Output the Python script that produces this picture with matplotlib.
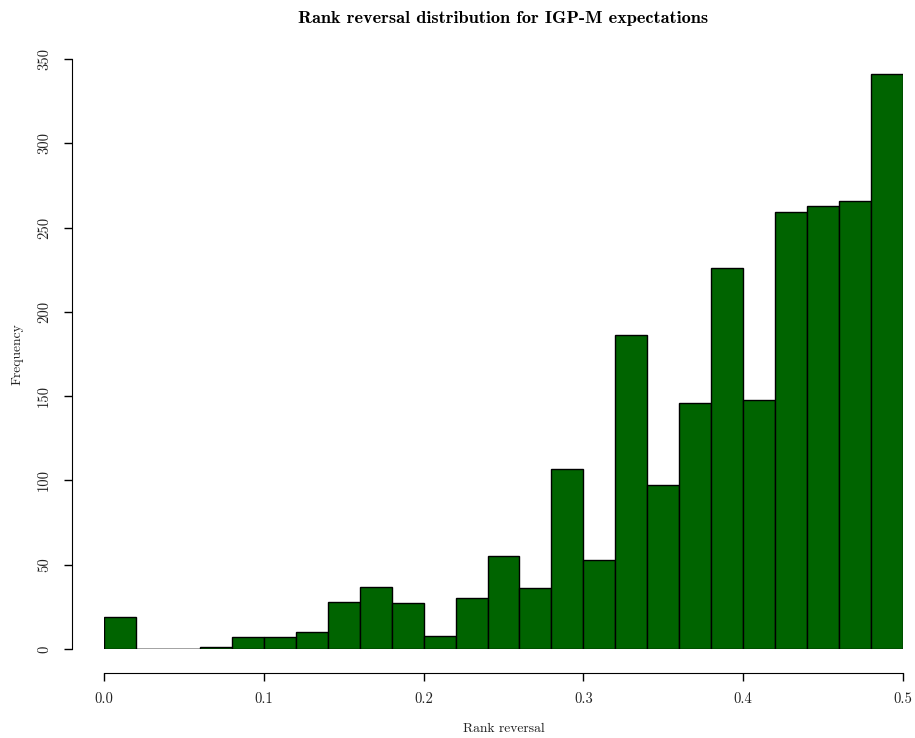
import matplotlib

matplotlib.use("Agg")
import matplotlib.pyplot as plt
import numpy as np

# histogram of rank reversal values, bins of width 0.02 over [0, 0.5]
bin_edges = [round(0.02 * i, 2) for i in range(26)]
counts = [19, 0, 0, 1, 7, 7, 10, 28, 37, 27, 8, 30, 55, 36, 107,
          53, 186, 97, 146, 226, 148, 259, 263, 266, 341]
x_ticks = [0.0, 0.1, 0.2, 0.3, 0.4, 0.5]
y_ticks = [0, 50, 100, 150, 200, 250, 300, 350]

plt.rcParams["font.family"] = ["cmr10", "DejaVu Serif"]
plt.rcParams["axes.formatter.use_mathtext"] = True

W, H = 915, 738
fig = plt.figure(figsize=(W / 100, H / 100), dpi=100)
ax = fig.add_axes([104 / W, 1 - 649 / H, (903 - 104) / W, (649 - 59) / H])

edges = np.array(bin_edges)
ax.bar(edges[:-1], counts, width=np.diff(edges), align="edge",
       color="#006400", edgecolor="black", linewidth=1.0)
# empty bins still show as a flat line on the baseline
ax.hlines(0, edges[0], edges[-1], color="black", linewidth=1.0, zorder=0.5)

ax.set_xlim(0, 0.5)
ax.set_ylim(0, 350)

for side in ["top", "right"]:
    ax.spines[side].set_visible(False)
ax.spines["bottom"].set_position(("outward", 24 * 0.72))
ax.spines["left"].set_position(("outward", 32 * 0.72))
ax.spines["bottom"].set_bounds(0, 0.5)
ax.spines["left"].set_bounds(0, 350)

ax.set_xticks(x_ticks)
ax.set_xticklabels([f"{v:.1f}" for v in x_ticks])
ax.set_yticks(y_ticks)
ax.set_yticklabels([str(v) for v in y_ticks], rotation=90, va="center")
ax.tick_params(axis="both", length=6, width=1, labelsize=10.5,
               labelcolor="#222222", pad=8)
ax.tick_params(axis="y", pad=9)

# axis labels placed in axes coordinates (bottom-left of plot region at 0, 0)
ax.set_xlabel("Rank reversal", fontsize=9.8, color="#222222")
ax.xaxis.set_label_coords(0.5, (649 - 729) / 590, transform=ax.transAxes)
ax.xaxis.label.set_va("center")
ax.set_ylabel("Frequency", fontsize=9.8, color="#222222")
ax.yaxis.set_label_coords((17 - 104) / 799, 0.5, transform=ax.transAxes)
ax.yaxis.label.set_va("center")

fig.text((104 + 903) / 2 / W, 1 - 18 / H,
         "Rank reversal distribution for IGP-M expectations",
         ha="center", va="center", fontsize=13.2, family="cmb10")

fig.savefig("out.png", dpi=100)
